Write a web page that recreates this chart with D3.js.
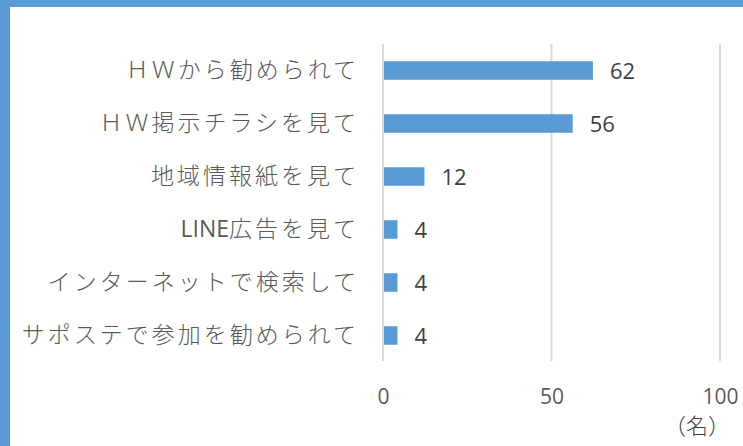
<!DOCTYPE html>
<html>
<head>
<meta charset="utf-8">
<script src="https://cdn.jsdelivr.net/npm/d3@7"></script>
<style>
  body { margin: 0; background: #fff; }
  svg { display: block; }
</style>
</head>
<body>
<script>
// chart size
var W = 743;
var H = 446;

// data
var categories = ["ＨＷから勧められて", "ＨＷ掲示チラシを見て", "地域情報紙を見て",
                  "LINE広告を見て", "インターネットで検索して", "サポステで参加を勧められて"];
var counts = [62, 56, 12, 4, 4, 4];
var tickValues = [0, 50, 100];
var unitLabel = "（名）";

function main() {
  var svg = d3.select("body").append("svg")
      .attr("width", W)
      .attr("height", H);

  // blue frame on top and left
  svg.append("rect").attr("x", 0).attr("y", 0).attr("width", W).attr("height", 7).attr("fill", "#5b9bd5");
  svg.append("rect").attr("x", 0).attr("y", 0).attr("width", 10).attr("height", H).attr("fill", "#5b9bd5");

  var xScale = d3.scaleLinear().domain([0, 100]).range([384, 721]);
  var yScale = d3.scaleBand().domain(categories).range([44, 362]).paddingInner(0.65).paddingOuter(0.325);

  // gridlines
  svg.append("g").selectAll("line")
    .data(tickValues)
    .enter()
    .append("line")
    .attr("x1", function(d) { return xScale(d) - 1; })
    .attr("x2", function(d) { return xScale(d) - 1; })
    .attr("y1", 44)
    .attr("y2", 361)
    .attr("stroke", "#d9d9d9")
    .attr("stroke-width", 2);

  // bars
  svg.append("g").selectAll("rect")
    .data(counts)
    .enter()
    .append("rect")
    .attr("x", xScale(0))
    .attr("y", function(d, i) { return yScale(categories[i]); })
    .attr("width", function(d) { return xScale(d) - xScale(0); })
    .attr("height", yScale.bandwidth())
    .attr("fill", "#5b9bd5");

  // value labels
  svg.append("g").selectAll("text")
    .data(counts)
    .enter()
    .append("text")
    .attr("x", function(d) { return xScale(d) + 17; })
    .attr("y", function(d, i) { return yScale(categories[i]) + yScale.bandwidth() / 2 + 8; })
    .attr("font-family", "'Open Sans', 'Noto Sans', sans-serif")
    .attr("font-size", 22)
    .attr("fill", "#404040")
    .text(function(d) { return d; });

  // category labels, latin runs get a narrower look without spacing
  var labels = svg.append("g").selectAll("text")
    .data(categories)
    .enter()
    .append("text")
    .attr("x", 359)
    .attr("y", function(d) { return yScale(d) + yScale.bandwidth() / 2 + 7; })
    .attr("text-anchor", "end")
    .attr("font-family", "'Noto Sans CJK JP', sans-serif")
    .attr("font-size", 23)
    .attr("font-weight", 300)
    .attr("fill", "#595959");
  labels.each(function(d) {
    var runs = d.match(/[A-Za-z]+|[^A-Za-z]+/g);
    var t = d3.select(this);
    runs.forEach(function(r) {
      var latin = /^[A-Za-z]+$/.test(r);
      t.append("tspan")
        .attr("font-family", latin ? "'Liberation Sans Narrow', 'Open Sans', sans-serif" : null)
        .attr("font-weight", latin ? 400 : null)
        .attr("letter-spacing", latin ? 0 : 3)
        .text(r);
    });
  });

  // x axis
  var xAxis = d3.axisBottom(xScale).tickValues(tickValues).tickSize(0).tickPadding(0);
  var g = svg.append("g")
    .attr("class", "x axis")
    .attr("transform", "translate(-1,404)")
    .call(xAxis);
  g.select(".domain").remove();
  g.selectAll("text")
    .attr("font-family", "'Open Sans', 'Noto Sans', sans-serif")
    .attr("font-size", 21)
    .attr("fill", "#595959")
    .attr("dy", 0);

  // unit label
  svg.append("text")
    .attr("x", 697)
    .attr("y", 434)
    .attr("text-anchor", "middle")
    .attr("font-family", "'Noto Sans CJK JP', sans-serif")
    .attr("font-size", 22)
    .attr("font-weight", 300)
    .attr("fill", "#404040")
    .text(unitLabel);
}

main();
</script>
</body>
</html>
